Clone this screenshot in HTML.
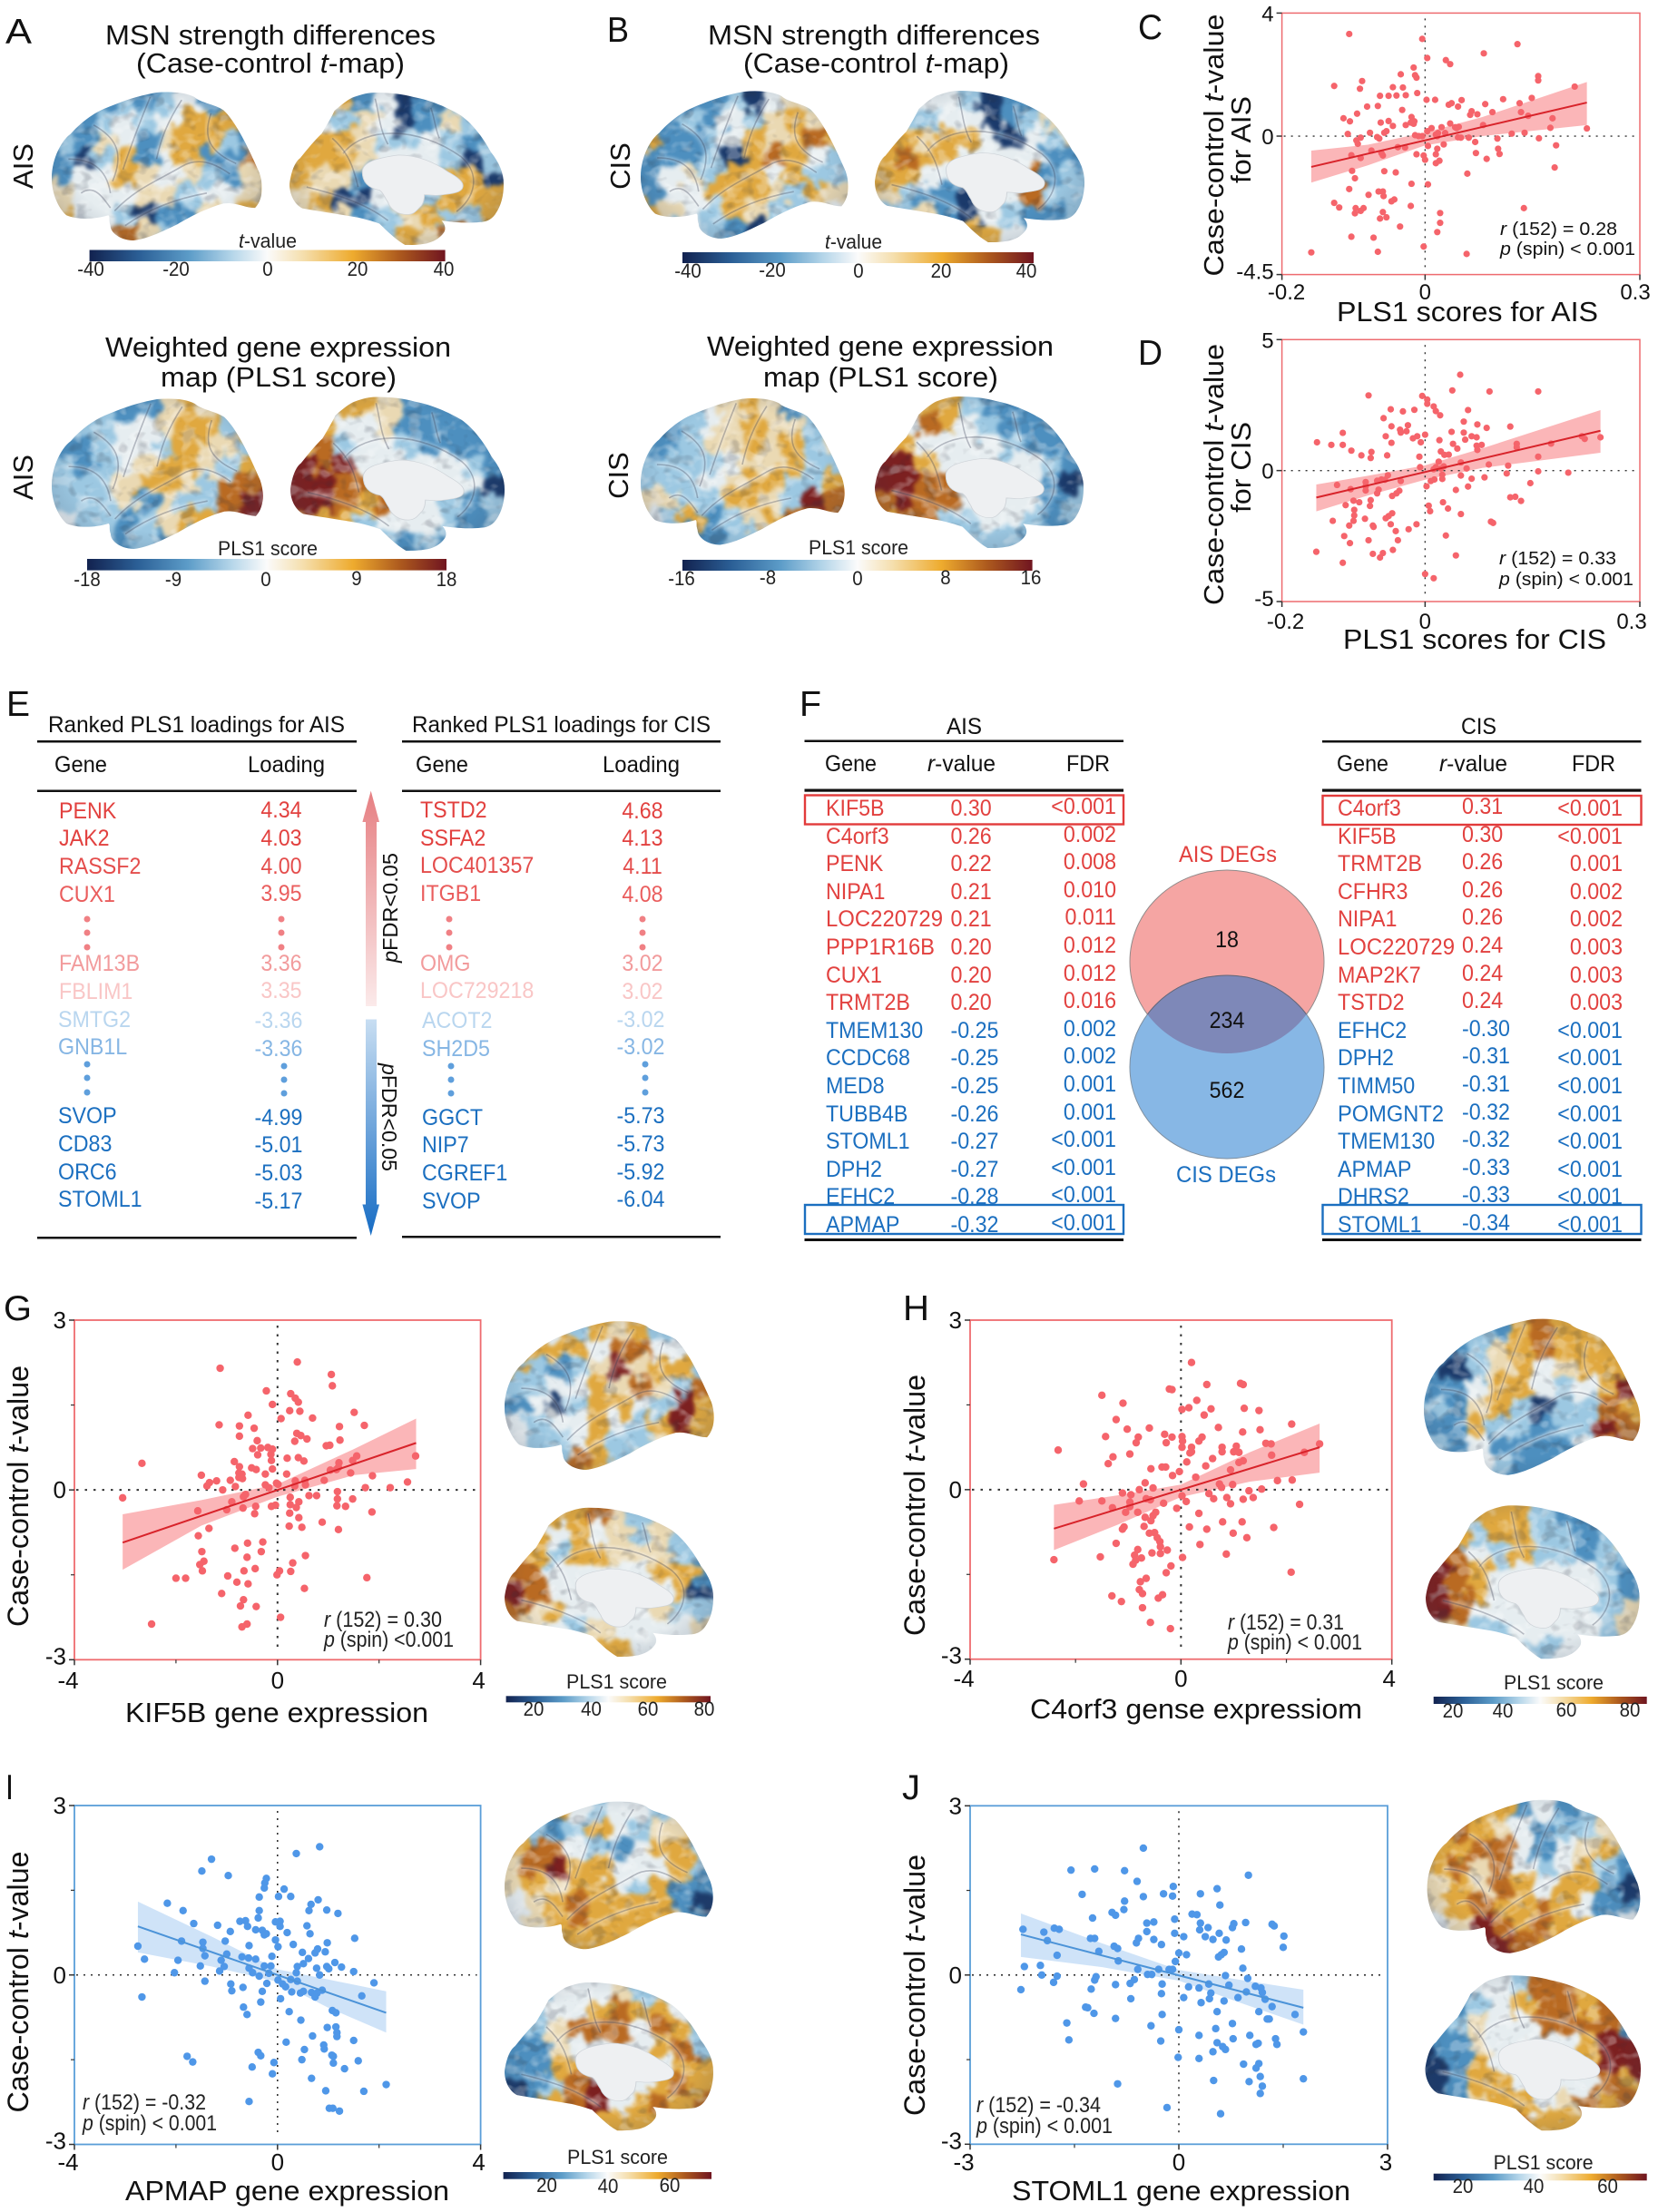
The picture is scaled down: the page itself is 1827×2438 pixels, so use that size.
<!DOCTYPE html>
<html lang="en">
<head>
<meta charset="utf-8">
<title>MSN strength and PLS1 gene expression figure</title>
<style>
html,body{margin:0;padding:0;background:#fff;}
svg{display:block;}
text{font-family:"Liberation Sans",Arial,sans-serif;fill:#111;}
.ttl{font-size:31px;}
.lab{font-size:39px;}
.red{fill:#e2413f;}
.blu{fill:#1b6fc0;}
.tb{font-size:25px;}
.cb{font-size:22px;fill:#222;}
.ann{font-size:24px;fill:#222;}
.ax{font-size:31px;}
.tb,.cb{transform:scaleX(.93);transform-box:fill-box;transform-origin:0% 50%;}
.tb[text-anchor=end]{transform-origin:100% 50%;}
g[text-anchor=middle] .tb,g[text-anchor=middle] .cb,.tb[text-anchor=middle],.cb[text-anchor=middle]{transform-origin:50% 50%;}
.tb[textLength],.cb[textLength]{transform:none;}
</style>
</head>
<body>
<svg id="figure" xmlns="http://www.w3.org/2000/svg" width="1827" height="2438" viewBox="0 0 1827 2438">
<defs>
<linearGradient id="cbar" x1="0" x2="1" y1="0" y2="0">
<stop offset="0" stop-color="#12224f"/><stop offset=".14" stop-color="#2b5f96"/><stop offset=".28" stop-color="#5c9cc8"/><stop offset=".4" stop-color="#b4d5e9"/><stop offset=".5" stop-color="#fbfbfb"/><stop offset=".6" stop-color="#f5dfae"/><stop offset=".74" stop-color="#eeab2e"/><stop offset=".87" stop-color="#ad5a1e"/><stop offset="1" stop-color="#701520"/>
</linearGradient>
<linearGradient id="upArrow" x1="0" x2="0" y1="0" y2="1"><stop offset="0" stop-color="#e67f82"/><stop offset="1" stop-color="#fbeaea"/></linearGradient>
<linearGradient id="downArrow" x1="0" x2="0" y1="0" y2="1"><stop offset="0" stop-color="#c8def2"/><stop offset="1" stop-color="#166cc4"/></linearGradient>
<radialGradient id="brainEdge" cx=".5" cy=".48" r=".62"><stop offset=".65" stop-color="#30405a" stop-opacity="0"/><stop offset="1" stop-color="#30405a" stop-opacity=".24"/></radialGradient>
<filter id="wobble" x="-10%" y="-10%" width="120%" height="120%" color-interpolation-filters="sRGB"><feTurbulence type="fractalNoise" baseFrequency="0.06 0.05" numOctaves="2" seed="7" result="n"/><feDisplacementMap in="SourceGraphic" in2="n" scale="32" xChannelSelector="R" yChannelSelector="G"/><feGaussianBlur stdDeviation="2"/></filter>
<filter id="veinsDark" x="0" y="0" width="1" height="1" color-interpolation-filters="sRGB"><feTurbulence type="fractalNoise" baseFrequency="0.06 0.08" numOctaves="2" seed="4"/><feColorMatrix values="0 0 0 0 .16 0 0 0 0 .18 0 0 0 0 .24 5 0 0 0 -2.7"/></filter>
<filter id="veinsLight" x="0" y="0" width="1" height="1" color-interpolation-filters="sRGB"><feTurbulence type="fractalNoise" baseFrequency="0.06 0.08" numOctaves="2" seed="9"/><feColorMatrix values="0 0 0 0 1 0 0 0 0 1 0 0 0 0 1 5 0 0 0 -2.5"/></filter>
<filter id="soft" x="-10%" y="-10%" width="120%" height="120%"><feGaussianBlur stdDeviation="1"/></filter>
<clipPath id="overlapClip"><ellipse cx="1352" cy="1060" rx="107" ry="101"/></clipPath>
</defs>

<g id="brains"></g>
<g id="plots"></g>

<!-- panel letters -->
<text class="lab" x="6" y="48" textLength="29" lengthAdjust="spacingAndGlyphs">A</text>
<text class="lab" x="669" y="46" textLength="24" lengthAdjust="spacingAndGlyphs">B</text>
<text class="lab" x="1254" y="43" textLength="27" lengthAdjust="spacingAndGlyphs">C</text>
<text class="lab" x="1254" y="402" textLength="27" lengthAdjust="spacingAndGlyphs">D</text>
<text class="lab" x="7" y="789" textLength="26" lengthAdjust="spacingAndGlyphs">E</text>
<text class="lab" x="881" y="789" textLength="24" lengthAdjust="spacingAndGlyphs">F</text>
<text class="lab" x="4" y="1455" textLength="31" lengthAdjust="spacingAndGlyphs">G</text>
<text class="lab" x="995" y="1455" textLength="29" lengthAdjust="spacingAndGlyphs">H</text>
<text class="lab" x="6" y="1983" textLength="9" lengthAdjust="spacingAndGlyphs">I</text>
<text class="lab" x="994" y="1983" textLength="20" lengthAdjust="spacingAndGlyphs">J</text>

<!-- A & B titles -->
<text class="ttl" x="116" y="49" textLength="364" lengthAdjust="spacingAndGlyphs">MSN strength differences</text>
<text class="ttl" x="150" y="80" textLength="296" lengthAdjust="spacingAndGlyphs">(Case-control <tspan font-style="italic">t</tspan>-map)</text>
<text class="ttl" x="116" y="393" textLength="381" lengthAdjust="spacingAndGlyphs">Weighted gene expression</text>
<text class="ttl" x="177" y="426" textLength="260" lengthAdjust="spacingAndGlyphs">map (PLS1 score)</text>
<text class="ttl" x="780" y="49" textLength="366" lengthAdjust="spacingAndGlyphs">MSN strength differences</text>
<text class="ttl" x="819" y="80" textLength="293" lengthAdjust="spacingAndGlyphs">(Case-control <tspan font-style="italic">t</tspan>-map)</text>
<text class="ttl" x="779" y="392" textLength="382" lengthAdjust="spacingAndGlyphs">Weighted gene expression</text>
<text class="ttl" x="841" y="426" textLength="259" lengthAdjust="spacingAndGlyphs">map (PLS1 score)</text>

<text font-size="31" transform="translate(36 183) rotate(-90)" text-anchor="middle">AIS</text>
<text font-size="31" transform="translate(36 526) rotate(-90)" text-anchor="middle">AIS</text>
<text font-size="31" transform="translate(694 183) rotate(-90)" text-anchor="middle">CIS</text>
<text font-size="31" transform="translate(692 524) rotate(-90)" text-anchor="middle">CIS</text>

<!-- colourbars A/B -->
<text class="cb" x="263" y="273" textLength="64" lengthAdjust="spacingAndGlyphs"><tspan font-style="italic">t</tspan>-value</text>
<rect x="98.6" y="275.5" width="392" height="12.5" fill="url(#cbar)"/>
<g text-anchor="middle">
<text class="cb" x="100" y="304">-40</text><text class="cb" x="194" y="304">-20</text><text class="cb" x="295" y="304">0</text><text class="cb" x="394" y="304">20</text><text class="cb" x="489" y="304">40</text></g>
<text class="cb" x="240" y="612" textLength="110" lengthAdjust="spacingAndGlyphs">PLS1 score</text>
<rect x="96" y="616" width="396" height="12.6" fill="url(#cbar)"/>
<g text-anchor="middle">
<text class="cb" x="96" y="646">-18</text><text class="cb" x="191" y="646">-9</text><text class="cb" x="293" y="646">0</text><text class="cb" x="393" y="645">9</text><text class="cb" x="492" y="646">18</text></g>
<text class="cb" x="909" y="274" textLength="63" lengthAdjust="spacingAndGlyphs"><tspan font-style="italic">t</tspan>-value</text>
<rect x="752" y="278" width="387" height="12" fill="url(#cbar)"/>
<g text-anchor="middle">
<text class="cb" x="758" y="306">-40</text><text class="cb" x="851" y="305">-20</text><text class="cb" x="946" y="306">0</text><text class="cb" x="1037" y="306">20</text><text class="cb" x="1131" y="306">40</text></g>
<text class="cb" x="891" y="611" textLength="110" lengthAdjust="spacingAndGlyphs">PLS1 score</text>
<rect x="752" y="617" width="385.6" height="12" fill="url(#cbar)"/>
<g text-anchor="middle">
<text class="cb" x="751" y="645">-16</text><text class="cb" x="846" y="644">-8</text><text class="cb" x="945" y="645">0</text><text class="cb" x="1042" y="644">8</text><text class="cb" x="1136" y="644">16</text></g>

<!-- scatter axis titles -->
<g>
<text class="ax" transform="translate(1348 160) rotate(-90)" text-anchor="middle" textLength="289" lengthAdjust="spacingAndGlyphs">Case-control <tspan font-style="italic">t</tspan>-value</text>
<text class="ax" transform="translate(1378 154) rotate(-90)" text-anchor="middle" textLength="96" lengthAdjust="spacingAndGlyphs">for AIS</text>
<text class="ax" x="1473" y="354" textLength="288" lengthAdjust="spacingAndGlyphs">PLS1 scores for AIS</text>
<text font-size="20" x="1653" y="259" fill="#222" textLength="129" lengthAdjust="spacingAndGlyphs"><tspan font-style="italic">r</tspan> (152) = 0.28</text>
<text font-size="20" x="1653" y="281" fill="#222" textLength="149" lengthAdjust="spacingAndGlyphs"><tspan font-style="italic">p</tspan> (spin) &lt; 0.001</text>
</g>
<g>
<text class="ax" transform="translate(1348 523) rotate(-90)" text-anchor="middle" textLength="288" lengthAdjust="spacingAndGlyphs">Case-control <tspan font-style="italic">t</tspan>-value</text>
<text class="ax" transform="translate(1378 515) rotate(-90)" text-anchor="middle" textLength="100" lengthAdjust="spacingAndGlyphs">for CIS</text>
<text class="ax" x="1480" y="715" textLength="290" lengthAdjust="spacingAndGlyphs">PLS1 scores for CIS</text>
<text font-size="20" x="1652" y="622" fill="#222" textLength="129" lengthAdjust="spacingAndGlyphs"><tspan font-style="italic">r</tspan> (152) = 0.33</text>
<text font-size="20" x="1652" y="645" fill="#222" textLength="148" lengthAdjust="spacingAndGlyphs"><tspan font-style="italic">p</tspan> (spin) &lt; 0.001</text>
</g>
<g>
<text class="ax" font-size="32" style="font-size:32px" transform="translate(31 1649) rotate(-90)" text-anchor="middle" textLength="288" lengthAdjust="spacingAndGlyphs">Case-control <tspan font-style="italic">t</tspan>-value</text>
<text class="ax" x="138" y="1898" textLength="334" lengthAdjust="spacingAndGlyphs">KIF5B gene expression</text>
<text class="ann" x="357" y="1793" textLength="130" lengthAdjust="spacingAndGlyphs"><tspan font-style="italic">r</tspan> (152) = 0.30</text>
<text class="ann" x="357" y="1815" textLength="143" lengthAdjust="spacingAndGlyphs"><tspan font-style="italic">p</tspan> (spin) &lt;0.001</text>
</g>
<g>
<text class="ax" style="font-size:32px" transform="translate(1019 1659) rotate(-90)" text-anchor="middle" textLength="288" lengthAdjust="spacingAndGlyphs">Case-control <tspan font-style="italic">t</tspan>-value</text>
<text class="ax" x="1135" y="1894" textLength="366" lengthAdjust="spacingAndGlyphs">C4orf3 gense expressiom</text>
<text class="ann" x="1353" y="1796" textLength="128" lengthAdjust="spacingAndGlyphs"><tspan font-style="italic">r</tspan> (152) = 0.31</text>
<text class="ann" x="1353" y="1818" textLength="148" lengthAdjust="spacingAndGlyphs"><tspan font-style="italic">p</tspan> (spin) &lt; 0.001</text>
</g>
<g>
<text class="ax" style="font-size:32px" transform="translate(31 2184.5) rotate(-90)" text-anchor="middle" textLength="288" lengthAdjust="spacingAndGlyphs">Case-control <tspan font-style="italic">t</tspan>-value</text>
<text class="ax" x="138" y="2425" textLength="357" lengthAdjust="spacingAndGlyphs">APMAP gene expression</text>
<text class="ann" x="91" y="2325" textLength="136" lengthAdjust="spacingAndGlyphs"><tspan font-style="italic">r</tspan> (152) = -0.32</text>
<text class="ann" x="91" y="2348" textLength="148" lengthAdjust="spacingAndGlyphs"><tspan font-style="italic">p</tspan> (spin) &lt; 0.001</text>
</g>
<g>
<text class="ax" style="font-size:32px" transform="translate(1019 2188) rotate(-90)" text-anchor="middle" textLength="288" lengthAdjust="spacingAndGlyphs">Case-control <tspan font-style="italic">t</tspan>-value</text>
<text class="ax" x="1115" y="2425" textLength="373" lengthAdjust="spacingAndGlyphs">STOML1 gene expression</text>
<text class="ann" x="1076" y="2328" textLength="137" lengthAdjust="spacingAndGlyphs"><tspan font-style="italic">r</tspan> (152) = -0.34</text>
<text class="ann" x="1076" y="2351" textLength="150" lengthAdjust="spacingAndGlyphs"><tspan font-style="italic">p</tspan> (spin) &lt; 0.001</text>
</g>

<!-- small colourbars -->
<g>
<text class="cb" x="624" y="1861" textLength="111" lengthAdjust="spacingAndGlyphs">PLS1 score</text>
<rect x="557.6" y="1869.3" width="225.4" height="7" fill="url(#cbar)"/>
<text class="cb" x="588" y="1891" text-anchor="middle">20</text><text class="cb" x="651.5" y="1891" text-anchor="middle">40</text><text class="cb" x="714" y="1891" text-anchor="middle">60</text><text class="cb" x="776" y="1891" text-anchor="middle">80</text>
</g>
<g>
<text class="cb" x="1657" y="1862" textLength="110" lengthAdjust="spacingAndGlyphs">PLS1 score</text>
<rect x="1579.7" y="1870" width="235" height="8" fill="url(#cbar)"/>
<text class="cb" x="1601" y="1893" text-anchor="middle">20</text><text class="cb" x="1656" y="1893" text-anchor="middle">40</text><text class="cb" x="1726" y="1892" text-anchor="middle">60</text><text class="cb" x="1796" y="1892" text-anchor="middle">80</text>
</g>
<g>
<text class="cb" x="625" y="2385" textLength="111" lengthAdjust="spacingAndGlyphs">PLS1 score</text>
<rect x="554.6" y="2394" width="229.4" height="7.7" fill="url(#cbar)"/>
<text class="cb" x="602.5" y="2416" text-anchor="middle">20</text><text class="cb" x="670" y="2417" text-anchor="middle">40</text><text class="cb" x="738" y="2416" text-anchor="middle">60</text>
</g>
<g>
<text class="cb" x="1645.6" y="2391" textLength="110" lengthAdjust="spacingAndGlyphs">PLS1 score</text>
<rect x="1579.7" y="2395.7" width="235" height="7.6" fill="url(#cbar)"/>
<text class="cb" x="1612" y="2417" text-anchor="middle">20</text><text class="cb" x="1690" y="2417" text-anchor="middle">40</text><text class="cb" x="1771.5" y="2417" text-anchor="middle">60</text>
</g>

<!-- Panel E -->
<g id="panel-e">
<text class="tb" x="53" y="807" textLength="327" lengthAdjust="spacingAndGlyphs">Ranked PLS1 loadings for AIS</text>
<text class="tb" x="454" y="807" textLength="329" lengthAdjust="spacingAndGlyphs">Ranked PLS1 loadings for CIS</text>
<rect x="41" y="816" width="352" height="2.5" fill="#111"/>
<rect x="443" y="816" width="351" height="2.5" fill="#111"/>
<text class="tb" x="60" y="851" textLength="58" lengthAdjust="spacingAndGlyphs">Gene</text>
<text class="tb" x="273" y="851" textLength="85" lengthAdjust="spacingAndGlyphs">Loading</text>
<text class="tb" x="458" y="851" textLength="58" lengthAdjust="spacingAndGlyphs">Gene</text>
<text class="tb" x="664" y="851" textLength="85" lengthAdjust="spacingAndGlyphs">Loading</text>
<rect x="41" y="870.5" width="352" height="2.5" fill="#111"/>
<rect x="443" y="870.5" width="351" height="2.5" fill="#111"/>
<rect x="41" y="1363" width="352" height="2.5" fill="#111"/>
<rect x="443" y="1362" width="351" height="2.5" fill="#111"/>

<g>
<text class="tb" style="fill:#e2413f" x="65" y="902">PENK</text>
<text class="tb" style="fill:#e2413f" x="65" y="932">JAK2</text>
<text class="tb" style="fill:#e44d4c" x="65" y="963">RASSF2</text>
<text class="tb" style="fill:#ea5d5d" x="65" y="994">CUX1</text>
<text class="tb" style="fill:#f29b9c" x="65" y="1070">FAM13B</text>
<text class="tb" style="fill:#f9c6c6" x="65" y="1101">FBLIM1</text>
<text class="tb" style="fill:#b9d6ef" x="64" y="1132">SMTG2</text>
<text class="tb" style="fill:#86b6e4" x="64" y="1162">GNB1L</text>
<text class="tb" style="fill:#1b6fc0" x="64" y="1238">SVOP</text>
<text class="tb" style="fill:#1b6fc0" x="64" y="1269">CD83</text>
<text class="tb" style="fill:#1b6fc0" x="64" y="1300">ORC6</text>
<text class="tb" style="fill:#1b6fc0" x="64" y="1330">STOML1</text>
</g>
<g text-anchor="middle">
<text class="tb" style="fill:#e2413f" x="310" y="901">4.34</text>
<text class="tb" style="fill:#e2413f" x="310" y="932">4.03</text>
<text class="tb" style="fill:#e44d4c" x="310" y="963">4.00</text>
<text class="tb" style="fill:#ea5d5d" x="310" y="993">3.95</text>
<text class="tb" style="fill:#f29b9c" x="310" y="1070">3.36</text>
<text class="tb" style="fill:#f9c6c6" x="310" y="1100">3.35</text>
<text class="tb" style="fill:#b9d6ef" x="307" y="1133">-3.36</text>
<text class="tb" style="fill:#86b6e4" x="307" y="1164">-3.36</text>
<text class="tb" style="fill:#1b6fc0" x="307" y="1240">-4.99</text>
<text class="tb" style="fill:#1b6fc0" x="307" y="1270">-5.01</text>
<text class="tb" style="fill:#1b6fc0" x="307" y="1301">-5.03</text>
<text class="tb" style="fill:#1b6fc0" x="307" y="1332">-5.17</text>
</g>
<g>
<text class="tb" style="fill:#e2413f" x="463" y="901">TSTD2</text>
<text class="tb" style="fill:#e2413f" x="463" y="932">SSFA2</text>
<text class="tb" style="fill:#e44d4c" x="463" y="962">LOC401357</text>
<text class="tb" style="fill:#ea5d5d" x="463" y="993">ITGB1</text>
<text class="tb" style="fill:#f29b9c" x="463" y="1070">OMG</text>
<text class="tb" style="fill:#f9c6c6" x="463" y="1100">LOC729218</text>
<text class="tb" style="fill:#b9d6ef" x="465" y="1133">ACOT2</text>
<text class="tb" style="fill:#86b6e4" x="465" y="1164">SH2D5</text>
<text class="tb" style="fill:#1b6fc0" x="465" y="1240">GGCT</text>
<text class="tb" style="fill:#1b6fc0" x="465" y="1270">NIP7</text>
<text class="tb" style="fill:#1b6fc0" x="465" y="1301">CGREF1</text>
<text class="tb" style="fill:#1b6fc0" x="465" y="1332">SVOP</text>
</g>
<g text-anchor="middle">
<text class="tb" style="fill:#e2413f" x="708" y="902">4.68</text>
<text class="tb" style="fill:#e2413f" x="708" y="932">4.13</text>
<text class="tb" style="fill:#e44d4c" x="708" y="963">4.11</text>
<text class="tb" style="fill:#ea5d5d" x="708" y="994">4.08</text>
<text class="tb" style="fill:#f29b9c" x="708" y="1070">3.02</text>
<text class="tb" style="fill:#f9c6c6" x="708" y="1101">3.02</text>
<text class="tb" style="fill:#b9d6ef" x="706" y="1132">-3.02</text>
<text class="tb" style="fill:#86b6e4" x="706" y="1162">-3.02</text>
<text class="tb" style="fill:#1b6fc0" x="706" y="1238">-5.73</text>
<text class="tb" style="fill:#1b6fc0" x="706" y="1269">-5.73</text>
<text class="tb" style="fill:#1b6fc0" x="706" y="1300">-5.92</text>
<text class="tb" style="fill:#1b6fc0" x="706" y="1330">-6.04</text>
</g>
<g fill="#f08084">
<circle cx="96" cy="1013" r="3.5"/><circle cx="96" cy="1028" r="3.5"/><circle cx="96" cy="1044" r="3.5"/>
<circle cx="310" cy="1013" r="3.5"/><circle cx="310" cy="1028" r="3.5"/><circle cx="310" cy="1044" r="3.5"/>
<circle cx="495" cy="1013" r="3.5"/><circle cx="495" cy="1028" r="3.5"/><circle cx="495" cy="1044" r="3.5"/>
<circle cx="708" cy="1013" r="3.5"/><circle cx="708" cy="1028" r="3.5"/><circle cx="708" cy="1044" r="3.5"/>
</g>
<g fill="#5f9fdc">
<circle cx="96" cy="1173" r="3.5"/><circle cx="96" cy="1188" r="3.5"/><circle cx="96" cy="1204" r="3.5"/>
<circle cx="313" cy="1175" r="3.5"/><circle cx="313" cy="1190" r="3.5"/><circle cx="313" cy="1205" r="3.5"/>
<circle cx="497" cy="1175" r="3.5"/><circle cx="497" cy="1190" r="3.5"/><circle cx="497" cy="1205" r="3.5"/>
<circle cx="711" cy="1173" r="3.5"/><circle cx="711" cy="1188" r="3.5"/><circle cx="711" cy="1204" r="3.5"/>
</g>
<path d="M408.7 871.6 L418 906 L415 906 L415 1109 L403 1109 L403 906 L399.4 906 Z" fill="url(#upArrow)"/>
<path d="M403 1123.5 L415 1123.5 L415 1327.5 L418 1327.5 L408.7 1362 L399.4 1327.5 L403 1327.5 Z" fill="url(#downArrow)"/>
<text font-size="23" transform="translate(438 1061) rotate(-90)" textLength="121" lengthAdjust="spacingAndGlyphs"><tspan font-style="italic">p</tspan>FDR&lt;0.05</text>
<text font-size="23" transform="translate(421 1172) rotate(90)" textLength="119" lengthAdjust="spacingAndGlyphs"><tspan font-style="italic">p</tspan>FDR&lt;0.05</text>
</g>

<!-- Panel F -->
<g id="panel-f">
<text class="tb" x="1043" y="809" textLength="39" lengthAdjust="spacingAndGlyphs">AIS</text>
<text class="tb" x="1610" y="809" textLength="39" lengthAdjust="spacingAndGlyphs">CIS</text>
<rect x="886.5" y="815.5" width="351.5" height="2.5" fill="#111"/>
<rect x="1457" y="816" width="351.5" height="2.5" fill="#111"/>
<text class="tb" x="909" y="850" textLength="57" lengthAdjust="spacingAndGlyphs">Gene</text>
<text class="tb" x="1022" y="850" textLength="75" lengthAdjust="spacingAndGlyphs"><tspan font-style="italic">r</tspan>-value</text>
<text class="tb" x="1175" y="850" textLength="48" lengthAdjust="spacingAndGlyphs">FDR</text>
<text class="tb" x="1473" y="850" textLength="57" lengthAdjust="spacingAndGlyphs">Gene</text>
<text class="tb" x="1586" y="850" textLength="75" lengthAdjust="spacingAndGlyphs"><tspan font-style="italic">r</tspan>-value</text>
<text class="tb" x="1732" y="850" textLength="48" lengthAdjust="spacingAndGlyphs">FDR</text>
<rect x="886.5" y="869.5" width="351.5" height="3.2" fill="#111"/>
<rect x="1457" y="869.5" width="351.5" height="3.2" fill="#111"/>
<rect x="886.5" y="1365" width="351.5" height="3" fill="#111"/>
<rect x="1457" y="1365" width="351.5" height="3" fill="#111"/>
<g id="deg-rows">
<text class="tb red" x="910" y="899">KIF5B</text><text class="tb red" x="1047.5" y="899">0.30</text><text class="tb red" x="1230" y="897" text-anchor="end">&lt;0.001</text>
<text class="tb red" x="910" y="930">C4orf3</text><text class="tb red" x="1047.5" y="930">0.26</text><text class="tb red" x="1230" y="928" text-anchor="end">0.002</text>
<text class="tb red" x="910" y="960">PENK</text><text class="tb red" x="1047.5" y="960">0.22</text><text class="tb red" x="1230" y="958" text-anchor="end">0.008</text>
<text class="tb red" x="910" y="991">NIPA1</text><text class="tb red" x="1047.5" y="991">0.21</text><text class="tb red" x="1230" y="989" text-anchor="end">0.010</text>
<text class="tb red" x="910" y="1021" textLength="129" lengthAdjust="spacingAndGlyphs">LOC220729</text><text class="tb red" x="1047.5" y="1021">0.21</text><text class="tb red" x="1230" y="1019" text-anchor="end">0.011</text>
<text class="tb red" x="910" y="1052" textLength="120" lengthAdjust="spacingAndGlyphs">PPP1R16B</text><text class="tb red" x="1047.5" y="1052">0.20</text><text class="tb red" x="1230" y="1050" text-anchor="end">0.012</text>
<text class="tb red" x="910" y="1083">CUX1</text><text class="tb red" x="1047.5" y="1083">0.20</text><text class="tb red" x="1230" y="1081" text-anchor="end">0.012</text>
<text class="tb red" x="910" y="1113">TRMT2B</text><text class="tb red" x="1047.5" y="1113">0.20</text><text class="tb red" x="1230" y="1111" text-anchor="end">0.016</text>
<text class="tb blu" x="910" y="1144">TMEM130</text><text class="tb blu" x="1047.5" y="1144">-0.25</text><text class="tb blu" x="1230" y="1142" text-anchor="end">0.002</text>
<text class="tb blu" x="910" y="1174">CCDC68</text><text class="tb blu" x="1047.5" y="1174">-0.25</text><text class="tb blu" x="1230" y="1172" text-anchor="end">0.002</text>
<text class="tb blu" x="910" y="1205">MED8</text><text class="tb blu" x="1047.5" y="1205">-0.25</text><text class="tb blu" x="1230" y="1203" text-anchor="end">0.001</text>
<text class="tb blu" x="910" y="1236">TUBB4B</text><text class="tb blu" x="1047.5" y="1236">-0.26</text><text class="tb blu" x="1230" y="1234" text-anchor="end">0.001</text>
<text class="tb blu" x="910" y="1266">STOML1</text><text class="tb blu" x="1047.5" y="1266">-0.27</text><text class="tb blu" x="1230" y="1264" text-anchor="end">&lt;0.001</text>
<text class="tb blu" x="910" y="1297">DPH2</text><text class="tb blu" x="1047.5" y="1297">-0.27</text><text class="tb blu" x="1230" y="1295" text-anchor="end">&lt;0.001</text>
<text class="tb blu" x="910" y="1327">EFHC2</text><text class="tb blu" x="1047.5" y="1327">-0.28</text><text class="tb blu" x="1230" y="1325" text-anchor="end">&lt;0.001</text>
<text class="tb blu" x="910" y="1358">APMAP</text><text class="tb blu" x="1047.5" y="1358">-0.32</text><text class="tb blu" x="1230" y="1356" text-anchor="end">&lt;0.001</text>

<text class="tb red" x="1474" y="899">C4orf3</text><text class="tb red" x="1611" y="897">0.31</text><text class="tb red" x="1788" y="899" text-anchor="end">&lt;0.001</text>
<text class="tb red" x="1474" y="930">KIF5B</text><text class="tb red" x="1611" y="928">0.30</text><text class="tb red" x="1788" y="930" text-anchor="end">&lt;0.001</text>
<text class="tb red" x="1474" y="960">TRMT2B</text><text class="tb red" x="1611" y="958">0.26</text><text class="tb red" x="1788" y="960" text-anchor="end">0.001</text>
<text class="tb red" x="1474" y="991">CFHR3</text><text class="tb red" x="1611" y="989">0.26</text><text class="tb red" x="1788" y="991" text-anchor="end">0.002</text>
<text class="tb red" x="1474" y="1021">NIPA1</text><text class="tb red" x="1611" y="1019">0.26</text><text class="tb red" x="1788" y="1021" text-anchor="end">0.002</text>
<text class="tb red" x="1474" y="1052" textLength="129" lengthAdjust="spacingAndGlyphs">LOC220729</text><text class="tb red" x="1611" y="1050">0.24</text><text class="tb red" x="1788" y="1052" text-anchor="end">0.003</text>
<text class="tb red" x="1474" y="1083">MAP2K7</text><text class="tb red" x="1611" y="1081">0.24</text><text class="tb red" x="1788" y="1083" text-anchor="end">0.003</text>
<text class="tb red" x="1474" y="1113">TSTD2</text><text class="tb red" x="1611" y="1111">0.24</text><text class="tb red" x="1788" y="1113" text-anchor="end">0.003</text>
<text class="tb blu" x="1474" y="1144">EFHC2</text><text class="tb blu" x="1611" y="1142">-0.30</text><text class="tb blu" x="1788" y="1144" text-anchor="end">&lt;0.001</text>
<text class="tb blu" x="1474" y="1174">DPH2</text><text class="tb blu" x="1611" y="1172">-0.31</text><text class="tb blu" x="1788" y="1174" text-anchor="end">&lt;0.001</text>
<text class="tb blu" x="1474" y="1205">TIMM50</text><text class="tb blu" x="1611" y="1203">-0.31</text><text class="tb blu" x="1788" y="1205" text-anchor="end">&lt;0.001</text>
<text class="tb blu" x="1474" y="1236" textLength="117" lengthAdjust="spacingAndGlyphs">POMGNT2</text><text class="tb blu" x="1611" y="1234">-0.32</text><text class="tb blu" x="1788" y="1236" text-anchor="end">&lt;0.001</text>
<text class="tb blu" x="1474" y="1266">TMEM130</text><text class="tb blu" x="1611" y="1264">-0.32</text><text class="tb blu" x="1788" y="1266" text-anchor="end">&lt;0.001</text>
<text class="tb blu" x="1474" y="1297">APMAP</text><text class="tb blu" x="1611" y="1295">-0.33</text><text class="tb blu" x="1788" y="1297" text-anchor="end">&lt;0.001</text>
<text class="tb blu" x="1474" y="1327">DHRS2</text><text class="tb blu" x="1611" y="1325">-0.33</text><text class="tb blu" x="1788" y="1327" text-anchor="end">&lt;0.001</text>
<text class="tb blu" x="1474" y="1358">STOML1</text><text class="tb blu" x="1611" y="1356">-0.34</text><text class="tb blu" x="1788" y="1358" text-anchor="end">&lt;0.001</text>
</g>
<rect x="887" y="876.5" width="351" height="32" fill="none" stroke="#e23b3b" stroke-width="2.4"/>
<rect x="1457.5" y="877" width="351" height="32" fill="none" stroke="#e23b3b" stroke-width="2.4"/>
<rect x="887" y="1328" width="351" height="32" fill="none" stroke="#1b6fc0" stroke-width="2.4"/>
<rect x="1457.5" y="1328" width="351" height="32" fill="none" stroke="#1b6fc0" stroke-width="2.4"/>

<text class="tb red" x="1299" y="950" textLength="108" lengthAdjust="spacingAndGlyphs">AIS DEGs</text>
<ellipse cx="1352" cy="1060" rx="107" ry="101" fill="#f5a5a3" stroke="#8f8a8a" stroke-width="1"/>
<ellipse cx="1352" cy="1176" rx="107" ry="101" fill="#87b7e5" stroke="#7f8f9f" stroke-width="1"/>
<ellipse cx="1352" cy="1176" rx="107" ry="101" fill="#7e88b8" clip-path="url(#overlapClip)" stroke="#667" stroke-width="1"/>
<text class="tb" x="1352" y="1044" text-anchor="middle">18</text>
<text class="tb" x="1352" y="1133" text-anchor="middle">234</text>
<text class="tb" x="1352" y="1210" text-anchor="middle">562</text>
<text class="tb blu" x="1296" y="1303" textLength="110" lengthAdjust="spacingAndGlyphs">CIS DEGs</text>
</g>
</svg>

<script>
// ---------- Panel C ----------
const cX=[-0.106,-0.004,0.003,0.129,0.082,0.029,0.035,-0.016,-0.014,-0.012,-0.034,-0.088,-0.127,-0.091,-0.045,-0.031,-0.011,-0.063,-0.051,-0.040,-0.027,0.002,0.014,0.033,0.037,0.051,0.046,0.084,0.109,0.149,0.132,0.158,0.158,0.209,-0.081,-0.066,-0.032,-0.095,-0.114,-0.105,-0.062,-0.051,-0.045,-0.019,-0.015,-0.020,-0.027,-0.016,-0.054,-0.057,-0.077,-0.108,-0.090,-0.096,-0.094,-0.067,-0.064,-0.014,-0.004,-0.009,0.003,0.009,0.015,0.018,0.023,0.028,0.017,0.035,0.042,0.047,0.044,0.081,0.046,0.050,0.061,0.070,0.065,0.063,0.073,0.094,0.134,0.144,0.178,0.175,0.121,0.139,0.159,0.101,0.102,0.104,0.183,0.181,0.071,0.086,0.059,-0.075,-0.103,-0.090,-0.061,-0.059,-0.038,-0.028,-0.012,-0.002,0,0.004,0.017,0.015,0.020,0.015,0.026,-0.057,-0.041,-0.102,-0.098,-0.106,-0.019,0.004,-0.079,-0.065,-0.059,-0.058,-0.043,-0.047,-0.127,-0.120,-0.097,-0.086,-0.090,-0.098,-0.059,-0.063,-0.054,-0.020,0.021,0.021,0.017,0.138,-0.035,-0.103,-0.072,-0.002,-0.159,-0.066,0.058,0.226];
const cY=[3.32,3.16,2.54,2.99,2.69,2.47,2.34,2.23,1.98,1.90,2.01,1.79,1.63,1.54,1.59,1.58,1.40,1.31,1.31,1.32,1.33,1.18,1.18,1.02,1.07,1.17,0.96,1.04,1.20,1.24,1.07,1.95,1.81,1.61,0.96,0.98,0.85,0.73,0.58,0.48,0.44,0.49,0.33,0.62,0.48,0.44,0.36,0.40,0.16,0.11,0.11,0.07,-0.05,-0.14,-0.25,-0.03,-0.08,0.03,0,0,0.16,0.26,0.05,0.10,0.29,0.10,0,0.41,0.29,0.30,0.26,0.36,-0.04,-0.05,-0.05,-0.19,0.81,0.69,0.71,0.78,0.78,0.66,0.58,0.27,0.08,0.11,-0.07,-0.08,-0.41,-0.58,-0.30,-1.02,-0.55,-0.74,-1.22,-0.47,-0.62,-0.71,-0.55,-0.63,-0.36,-0.37,-0.59,-0.63,-0.77,-0.32,-0.41,-0.59,-0.80,-0.88,-0.27,-1.14,-1.18,-1.13,-1.37,-1.72,-1.55,-1.57,-1.91,-1.80,-1.80,-1.95,-2.06,-2.12,-2.17,-2.32,-2.34,-2.34,-2.43,-2.51,-2.47,-2.68,-2.64,-2.27,-2.50,-2.82,-3.12,-2.34,-2.94,-3.27,-3.30,-3.59,-3.78,-3.76,-3.83,0.25];
const cFitX=[-0.159,0.226];
const cFitY=[-1.00,1.09];
const cBandX=[-0.159,-0.08,0,0.08,0.226];
const cBandUpper=[-0.47,-0.28,0.12,0.62,1.76];
const cBandLower=[-1.51,-0.95,-0.30,0.00,0.36];
const cXTicks=[-0.2,0,0.3];
const cYTicks=[4,0,-4.5];

// ---------- Panel D ----------
const dX=[.049,.038,.090,.158,-.079,-.004,.003,.003,.012,.015,.021,-.048,-.031,-.015,.060,-.058,.054,.073,.086,.119,-.047,-.024,-.035,-.034,-.026,.037,.054,-.115,-.055,-.011,0,-.017,-.006,.020,.056,.065,.072,.219,.223,.245,-.151,-.131,-.115,-.047,.039,.045,.072,.079,.073,.128,.128,.176,-.103,-.089,-.075,-.076,-.053,-.008,.022,.027,.033,.019,.026,.050,.158,.089,.116,-.007,.012,.015,.022,.058,.158,.200,.114,.050,.024,.024,.013,.008,.002,.065,.083,.060,.043,.147,-.052,-.061,-.056,-.067,-.034,-.123,-.083,-.083,-.083,-.104,-.065,-.067,-.036,-.040,-.046,.119,.126,.134,-.100,-.092,-.076,-.077,-.111,.025,.005,.007,.032,.050,-.099,-.099,-.100,-.106,-.084,-.129,-.055,-.046,-.051,-.073,-.072,-.048,-.012,-.023,-.041,.092,.095,-.113,.029,-.079,-.038,-.105,-.152,-.045,-.073,-.059,-.063,.043,-.115,0,.012];
const dY=[3.66,3.06,3.02,3.02,2.87,2.85,2.71,2.55,2.45,2.27,2.11,2.34,2.26,2.32,2.31,2.0,1.87,1.76,1.63,1.68,1.69,1.73,1.56,1.45,1.50,1.48,1.45,1.44,1.31,1.31,1.37,1.23,1.08,1.16,1.18,1.31,1.27,1.31,1.21,1.27,1.08,.98,.98,1.06,1.02,.84,.95,.98,.79,1.02,.89,1.03,.76,.58,.71,.48,.58,.53,.73,.60,.61,.34,.16,.31,.53,.23,.19,.13,.05,.13,.08,.08,-.03,-.08,-.11,-.19,-.16,-.32,-.34,-.40,-.60,-.31,-.26,-.61,-.74,-.48,-.18,-.34,-.35,-.39,-.40,-.55,-.44,-.60,-.76,-.71,-.73,-.87,-.77,-.87,-.97,-1.02,-1.0,-1.16,-1.15,-1.21,-1.13,-1.35,-1.32,-1.21,-1.34,-1.55,-1.45,-1.66,-1.5,-1.71,-1.92,-2.10,-1.84,-1.92,-1.82,-1.63,-1.74,-2.10,-2.15,-2.05,-2.05,-2.24,-2.31,-1.95,-2.0,-2.5,-2.48,-2.66,-2.66,-2.77,-3.10,-3.03,-3.18,-3.15,-3.32,-3.24,-3.52,-3.95,-4.11];
const dFitX=[-0.152,0.245];
const dFitY=[-1.03,1.52];
const dBandX=[-0.152,-0.08,0,0.08,0.245];
const dBandUpper=[-0.53,-0.20,0.20,0.85,2.31];
const dBandLower=[-1.56,-0.95,-0.35,0.10,0.68];
const dXTicks=[-0.2,0,0.3];
const dYTicks=[5,0,-5];

// ---------- Panel G ----------
const gX=[.39,-1.13,1.06,1.08,-.22,.26,.35,.41,-.10,.24,.44,1.51,-.58,.07,.69,-1.15,-.75,-.46,1.22,1.71,.38,.46,.58,.34,-.75,-.40,1.23,.96,1.03,-.49,-.33,-.19,-.10,-.39,-.13,.41,.19,.52,1.56,1.48,2.72,-2.67,-.85,-.12,-.75,-.51,-.42,-.10,1.21,1.20,1.04,1.16,1.44,-1.50,-.76,-.70,-.24,.18,1.87,2.56,-.76,-.69,-.93,-1.20,-1.34,-1.39,-.83,-1.08,-.24,-.17,-.02,.01,.35,.54,.55,.34,.92,1.73,2.22,1.18,-.63,-.67,.62,.77,.25,1.18,1.48,-3.05,-.90,-.43,-.68,-1.0,.25,.42,.37,-.12,-.04,1.17,1.34,-1.57,-.45,.24,1.86,.42,.88,.23,.48,1.20,-1.35,-1.56,-.29,-.59,-.84,-.32,-1.49,.55,-.60,-1.45,-1.53,.30,-.44,-.66,-1.48,.04,.26,-.01,-.98,-2.0,-1.81,1.76,-.80,-.58,.53,-1.10,-.67,-.73,-.42,.06,-2.48,-.60,-.70];
const gY=[2.26,2.15,2.04,1.84,1.75,1.70,1.62,1.55,1.51,1.40,1.39,1.37,1.32,1.26,1.27,1.15,1.13,1.09,1.12,1.14,1.0,.96,.90,.86,.95,.87,.88,.78,.79,.73,.74,.75,.72,.62,.63,.57,.56,.51,.60,.52,.60,.47,.50,.52,.41,.39,.36,.37,.48,.40,.35,.36,.30,.26,.30,.28,.28,.28,.25,.14,.22,.20,.17,.16,.13,.07,.06,0,.09,.04,.12,.10,.16,.17,.09,.07,.17,.04,.04,-.03,-.08,-.12,-.10,-.10,-.13,-.16,-.16,-.14,-.21,-.29,-.32,-.35,-.26,-.21,-.31,-.29,-.27,-.28,-.29,-.37,-.42,-.41,-.39,-.49,-.57,-.64,-.66,-.70,-.68,-.81,-.92,-.94,-1.03,-1.09,-1.09,-1.16,-1.19,-1.26,-1.32,-1.29,-1.39,-1.43,-1.43,-1.43,-1.44,-1.50,-1.52,-1.56,-1.56,-1.55,-1.63,-1.66,-1.74,-1.83,-1.94,-2.05,-2.06,-2.25,-2.37,-2.37,-2.42];
const gFitX=[-3.05,2.73];
const gFitY=[-0.93,0.83];
const gBandX=[-3.05,-1.5,0,1.5,2.73];
const gBandUpper=[-0.43,-0.18,0.10,0.72,1.26];
const gBandLower=[-1.41,-0.63,-0.12,0.26,0.37];
const gXTicks=[-4,0,4];
const gYTicks=[3,0,-3];

// ---------- Panel H ----------
const hX=[.20,.49,1.13,1.18,-.22,-.17,-1.50,-1.10,.30,.15,.02,.57,1.20,1.48,.44,-1.23,2.10,-1.02,-.60,.71,1.50,1.17,-1.43,-.31,-.81,-.85,-.17,.02,-.28,.03,.40,.34,.02,.20,1.61,1.71,.78,1.05,.78,1.0,1.10,.17,.20,-.97,-1.29,1.72,2.34,2.63,-2.33,.60,.11,1.18,1.10,-1.38,.47,-.57,-.36,-.29,.94,-.03,-.16,.28,1.83,2.11,-1.85,-.68,.73,.98,.77,-.79,-.53,1.53,1.29,-1.11,-.95,.02,.53,.62,.87,1.18,1.37,-1.93,-1.50,-.66,-.58,-.97,.10,-.33,.94,2.25,-1.30,-.97,-.08,-1.05,-.82,-.48,.34,-.68,-.53,-.57,.79,1.16,-.70,-1.08,-1.11,.16,1.76,.49,-.60,-.50,.99,1.25,-.45,-.40,-1.23,.36,-.39,-.26,-.82,-.55,-.39,-.88,.86,-1.53,.03,-.75,-2.41,-.86,-.91,-.19,-.28,2.09,-.66,-.77,-.79,-.73,-1.31,-.35,-.43,-1.13,-.73,-.58,-.20];
const hY=[2.25,1.86,1.88,1.86,1.78,1.77,1.67,1.53,1.58,1.45,1.42,1.43,1.44,1.40,1.32,1.24,1.16,1.07,1.09,1.10,1.06,1.02,.94,.98,.93,.83,.93,.94,.83,.86,.93,.86,.75,.75,.82,.81,.75,.77,.67,.67,.66,.65,.67,.63,.58,.61,.66,.81,.70,.55,.49,.51,.48,.46,.42,.37,.40,.40,.35,.32,.25,.22,.16,.17,.10,.12,.10,.09,.04,0,.03,.01,-.02,-.06,-.09,-.11,-.07,-.16,-.14,-.17,-.14,-.20,-.20,-.16,-.18,-.22,-.21,-.24,-.25,-.26,-.32,-.30,-.33,-.40,-.40,-.40,-.42,-.49,-.46,-.55,-.57,-.57,-.65,-.66,-.70,-.66,-.67,-.70,-.77,-.76,-.77,-.85,-.85,-.92,-.95,-.97,-1.01,-1.07,-1.06,-1.12,-1.13,-1.16,-1.14,-1.19,-1.20,-1.21,-1.24,-1.25,-1.32,-1.35,-1.47,-1.46,-1.57,-1.63,-1.77,-1.84,-1.88,-1.86,-1.92,-1.98,-2.09,-2.35,-2.46];
const hFitX=[-2.41,2.63];
const hFitY=[-0.69,0.75];
const hBandX=[-2.41,-1.2,0,1.3,2.63];
const hBandUpper=[-0.27,-0.10,0.09,0.66,1.17];
const hBandLower=[-1.07,-0.62,-0.13,0.14,0.30];
const hXTicks=[-4,0,4];
const hYTicks=[3,0,-3];

// ---------- Panel I ----------
const iX=[.83,.37,-1.30,-1.49,-.97,-.22,-.25,-.26,.13,.02,.26,-.36,.80,.66,-2.17,-1.86,.62,.97,1.19,-.36,-.38,-.74,-.63,-.04,.05,.05,-1.65,-1.18,-.59,.58,-.93,-.43,-.30,-.22,-.26,.19,.64,1.52,-1.89,-1.03,-.04,-1.47,-.56,.31,.98,.01,-1.47,.49,.79,.74,.94,-1.43,-1.0,-2.62,-2.75,-.70,-.57,-.43,-.11,.61,-1.96,-1.11,-1.52,-1.05,-1.14,-.26,-.13,-.56,.39,.51,1.13,1.26,.77,.97,1.01,1.50,-2.03,-.49,-.17,.37,.83,-.36,.01,.26,.39,-1.43,-.92,-.68,1.90,-.21,.10,.16,-.90,-.30,.28,.45,.51,.67,.88,.78,.74,-2.67,1.66,.06,-.33,-.67,-.60,.23,1.08,1.15,.46,.98,1.15,1.17,1.17,.69,1.50,.17,.91,.92,.53,-.38,-.33,-1.78,-1.67,1.07,1.10,.48,1.10,1.59,-.07,-.50,1.32,-.10,.67,2.14,.95,1.70,-.56,1.02,1.09,1.22];
const iY=[2.27,2.15,2.05,1.84,1.76,1.71,1.63,1.54,1.52,1.39,1.39,1.38,1.33,1.25,1.27,1.14,1.14,1.15,1.09,1.14,1.01,.95,.96,.94,.95,.86,.91,.88,.86,.87,.77,.80,.79,.73,.71,.75,.73,.65,.60,.60,.62,.58,.52,.54,.57,.50,.47,.40,.46,.39,.41,.34,.37,.28,.51,.32,.30,.28,.33,.29,.26,.26,.16,.15,.07,.16,.16,.12,.15,.20,.22,.14,.12,.15,.11,.06,.04,.04,.03,.04,0,-.02,-.09,-.08,-.11,-.11,-.16,-.22,-.14,-.15,-.16,-.21,-.28,-.29,-.30,-.32,-.29,-.31,-.27,-.32,-.39,-.39,-.37,-.42,-.48,-.57,-.70,-.65,-.63,-.67,-.80,-.93,-.92,-1.02,-1.09,-1.08,-1.16,-1.19,-1.24,-1.31,-1.32,-1.37,-1.43,-1.44,-1.54,-1.42,-1.44,-1.50,-1.56,-1.52,-1.55,-1.63,-1.66,-1.75,-1.83,-1.94,-2.05,-2.06,-2.24,-2.36,-2.36,-2.41];
const iFitX=[-2.75,2.14];
const iFitY=[0.86,-0.67];
const iBandX=[-2.75,-1.3,0,1,2.14];
const iBandUpper=[1.30,0.68,0.10,-0.08,-0.29];
const iBandLower=[0.40,0.15,-0.12,-0.58,-1.02];
const iXTicks=[-4,0,4];
const iYTicks=[3,0,-3];

// ---------- Panel J ----------
const jX=[-.51,-1.55,-1.21,-.78,1.0,-.60,-.08,.55,-1.39,-.22,-.09,.31,-.51,-.78,.59,-.79,-.96,-.91,.19,.26,-1.24,-.06,.96,-.46,-.36,.31,.79,1.34,1.37,-2.24,-1.79,-1.72,.42,.30,.77,-.46,-.06,-1.94,.58,.07,.38,1.51,-1.27,-1.21,-.58,.49,.68,-1.89,-.36,-.61,-.25,-.93,-.88,1.50,.90,-1.15,0,.11,.65,.61,.57,-1.75,-.87,-.05,-2.22,-1.99,-.59,-.29,-.14,-.09,.92,-1.97,-1.75,-.45,-.39,.67,-1.19,-1.21,-.64,.99,-1.80,-.70,-.91,-.24,.43,.72,.14,.29,1.10,1.18,-2.27,-1.26,.97,1.20,-.25,.46,.44,.85,.07,-.69,1.24,.65,.32,1.34,-1.34,-1.31,-1.22,.55,1.15,1.67,-.24,-.91,1.27,1.30,-1.61,.77,-.40,.53,0,1.79,.29,1.02,.78,1.39,-1.58,-.26,.55,1.14,1.11,1.41,.63,.67,.49,-.01,.29,.93,1.15,1.11,.50,1.17,1.01,1.79,-.88,1.20,1.17,-.17,.60];
const jY=[2.25,1.86,1.88,1.85,1.77,1.66,1.57,1.53,1.43,1.44,1.40,1.44,1.39,1.31,1.24,1.16,1.11,1.06,1.08,1.07,1.01,.99,.93,.92,.94,.92,.91,.90,.87,.81,.83,.81,.84,.80,.84,.77,.74,.76,.74,.68,.68,.69,.65,.65,.65,.63,.62,.61,.63,.57,.54,.51,.47,.49,.46,.42,.39,.36,.40,.36,.32,.35,.25,.24,.15,.17,.10,.10,.10,.10,.12,0,-.02,.01,.01,-.01,-.03,-.09,-.08,-.06,-.13,-.15,-.17,-.16,-.16,-.18,-.21,-.23,-.20,-.23,-.26,-.25,-.30,-.31,-.33,-.32,-.42,-.40,-.40,-.42,-.43,-.46,-.49,-.56,-.57,-.58,-.68,-.65,-.65,-.70,-.70,-.77,-.78,-.78,-.85,-.86,-.90,-.95,-.97,-1.01,-1.07,-1.07,-1.13,-1.13,-1.15,-1.17,-1.20,-1.21,-1.23,-1.23,-1.27,-1.32,-1.36,-1.46,-1.48,-1.58,-1.57,-1.65,-1.87,-1.80,-1.89,-1.84,-1.93,-1.97,-2.10,-2.35,-2.46];
const jFitX=[-2.27,1.79];
const jFitY=[0.72,-0.58];
const jBandX=[-2.27,-1.1,0,0.9,1.79];
const jBandUpper=[1.09,0.56,0.09,-0.09,-0.26];
const jBandLower=[0.32,0.14,-0.10,-0.50,-0.88];
const jXTicks=[-3,0,3];
const jYTicks=[3,0,-3];

const NS='http://www.w3.org/2000/svg';
function mk(tag,attrs,parent){
  const el=document.createElementNS(NS,tag);
  for(const k in attrs){el.setAttribute(k,attrs[k]);}
  parent.appendChild(el);
  return el;
}

function drawScatter(p){
  const root=document.getElementById('plots');
  const g=mk('g',{},root);
  
  
  const b=p.box;
  const sx=v=>b[0]+(v-p.xDom[0])/(p.xDom[1]-p.xDom[0])*(b[2]-b[0]);
  const sy=v=>b[3]-(v-p.yDom[0])/(p.yDom[1]-p.yDom[0])*(b[3]-b[1]);

  const up=p.bandX.map((x,i)=>sx(x)+','+sy(p.bandUpper[i]));
  const lo=p.bandX.map((x,i)=>sx(x)+','+sy(p.bandLower[i])).reverse();
  const band=mk('polygon',{points:up.concat(lo).join(' '),fill:p.bandColor},g);
  
  

  const hz=mk('line',{x1:b[0]+2,x2:b[2]-4,y1:sy(0),y2:sy(0),stroke:'#333','stroke-width':p.dotW,'stroke-dasharray':p.dash},g);
  
  
  const vt=mk('line',{x1:sx(0),x2:sx(0),y1:b[1]+6,y2:b[3]-8,stroke:'#333','stroke-width':p.dotW,'stroke-dasharray':p.dash},g);
  
  

  const pts=mk('g',{fill:p.dotColor},g);
  
  
  p.xs.forEach((x,i)=>{
    if(p.ys[i]===undefined)return;
    const c=mk('circle',{cx:sx(x),cy:sy(p.ys[i]),r:p.r},pts);
    
    
  });

  const fit=mk('line',{x1:sx(p.fitX[0]),y1:sy(p.fitY[0]),x2:sx(p.fitX[1]),y2:sy(p.fitY[1]),stroke:p.lineColor,'stroke-width':2},g);
  
  

  const box=mk('rect',{x:b[0],y:b[1],width:b[2]-b[0],height:b[3]-b[1],fill:'none',stroke:p.boxColor,'stroke-width':p.boxW},g);
  
  

  p.xTicks.forEach((t,i)=>{
    const tick=mk('line',{x1:sx(t),x2:sx(t),y1:b[3],y2:b[3]+6,stroke:'#333','stroke-width':1.5},g);
    
    
    const lab=mk('text',{x:sx(t)+p.xShift[i],y:p.xBase,'text-anchor':'middle','font-size':p.tickSize},g);
    
    
    lab.textContent=String(t);
  });
  p.yTicks.forEach(t=>{
    const tick=mk('line',{x1:b[0]-6,x2:b[0],y1:sy(t),y2:sy(t),stroke:'#333','stroke-width':1.5},g);
    
    
    const lab=mk('text',{x:b[0]-9,y:Math.min(sy(t)+9,b[3]+5),'text-anchor':'end','font-size':p.tickSize},g);
    
    
    lab.textContent=String(t);
  });
  (p.minorX||[]).forEach(t=>{
    const m=mk('line',{x1:sx(t),x2:sx(t),y1:b[3],y2:b[3]+4,stroke:'#333','stroke-width':1.2},g);
    
    
  });
  (p.minorY||[]).forEach(t=>{
    const m=mk('line',{x1:b[0]-4,x2:b[0],y1:sy(t),y2:sy(t),stroke:'#333','stroke-width':1.2},g);
    
    
  });
}

const redStyle={dotColor:'#f5646b',lineColor:'#d8232a',bandColor:'#fbb6b8',boxColor:'#ee6b6f'};
const blueStyle={dotColor:'#4f97e8',lineColor:'#4b93d8',bandColor:'#cfe3f8',boxColor:'#5a9ed8'};

drawScatter(Object.assign({id:'c',box:[1412.6,14.4,1807,302.6],xDom:[-0.2,0.3],yDom:[-4.5,4],xs:cX,ys:cY,fitX:cFitX,fitY:cFitY,bandX:cBandX,bandUpper:cBandUpper,bandLower:cBandLower,xTicks:cXTicks,yTicks:cYTicks,xShift:[5,0,-5],xBase:330,tickSize:24,r:3.6,dotW:1.4,dash:'2 6',boxW:1.5},redStyle));
drawScatter(Object.assign({id:'d',box:[1412.6,374.3,1807,663],xDom:[-0.2,0.3],yDom:[-5,5],xs:dX,ys:dY,fitX:dFitX,fitY:dFitY,bandX:dBandX,bandUpper:dBandUpper,bandLower:dBandLower,xTicks:dXTicks,yTicks:dYTicks,xShift:[4,0,-9],xBase:693,tickSize:24,r:3.6,dotW:1.4,dash:'2 6',boxW:1.5},redStyle));
drawScatter(Object.assign({id:'g',box:[82,1455,529.6,1829.3],xDom:[-4,4],yDom:[-3,3],xs:gX,ys:gY,fitX:gFitX,fitY:gFitY,bandX:gBandX,bandUpper:gBandUpper,bandLower:gBandLower,xTicks:gXTicks,yTicks:gYTicks,minorX:[-2,2],minorY:[-1.5,1.5],xShift:[-7,0,-2],xBase:1861,tickSize:26,r:4.2,dotW:2,dash:'2.5 7',boxW:1.8},redStyle));
drawScatter(Object.assign({id:'h',box:[1069,1455,1533.7,1828.7],xDom:[-4,4],yDom:[-3,3],xs:hX,ys:hY,fitX:hFitX,fitY:hFitY,bandX:hBandX,bandUpper:hBandUpper,bandLower:hBandLower,xTicks:hXTicks,yTicks:hYTicks,minorX:[-2,2],minorY:[-1.5,1.5],xShift:[-7,0,-3],xBase:1859,tickSize:26,r:4.2,dotW:2,dash:'2.5 7',boxW:1.8},redStyle));
drawScatter(Object.assign({id:'i',box:[82,1990,529.6,2363.5],xDom:[-4,4],yDom:[-3,3],xs:iX,ys:iY,fitX:iFitX,fitY:iFitY,bandX:iBandX,bandUpper:iBandUpper,bandLower:iBandLower,xTicks:iXTicks,yTicks:iYTicks,minorX:[-2,2],minorY:[-1.5,1.5],xShift:[-7,0,-2],xBase:2392,tickSize:26,r:4.2,dotW:1.6,dash:'2 6',boxW:1.8},blueStyle));
drawScatter(Object.assign({id:'j',box:[1069,1990.3,1529,2363.3],xDom:[-3,3],yDom:[-3,3],xs:jX,ys:jY,fitX:jFitX,fitY:jFitY,bandX:jBandX,bandUpper:jBandUpper,bandLower:jBandLower,xTicks:jXTicks,yTicks:jYTicks,minorX:[-1.5,1.5],minorY:[-1.5,1.5],xShift:[-7,0,-2],xBase:2392,tickSize:26,r:4.2,dotW:1.6,dash:'2 6',boxW:1.8},blueStyle));

// ---------- Brain surface illustrations ----------
const brainPalette={n:'#1b3a6b',b:'#4d8fbf',l:'#9cc8e2',w:'#e6edf0',c:'#ead9b3',y:'#e0a83f',o:'#b96a22',r:'#7c2020'};
const lateralShape='M0,58 C0,44 5,32 9,28 C14,20 20,14 25,11 C35,5 42,2 50,0 C57,-1 64,0 68,3 C71,7 78,8 82,12 C88,20 94,38 99,54 C101,62 101,72 97,78 C92,78 88,74 82,75 C74,78 66,84 60,89 C54,93 46,99 39,100 C33,100 28,95 28,90 C27,86 28,84 27,83 C20,86 12,86 7,83 C3,78 0,68 0,58 Z';
const medialShape='M0,60 C1,50 3,45 5,43 C9,36 12,31 15,27 C18,20 20,15 21,12 C25,7 28,4 30,3 C34,1 37,0 40,0 C47,0 53,1 58,3 C66,5 74,10 80,15 C86,21 91,31 94,39 C98,46 100,53 100,60 C100,70 98,76 96,80 C94,84 91,85 89,85 C83,86 76,85 71,84 C73,87 73,90 72,92 C70,96 67,98 64,99 C60,100 57,100 54,100 C49,96 45,90 42,86 C38,84 35,83 32,82 C24,80 14,78 6,76 C3,74 0,68 0,60 Z';
const callosumShape='M34,52 C34,46 40,43 51,41 C60,41 68,46 74,52 C78,55 81,58 81,61 C81,65 78,66 72,67 C68,68 66,67 63,67 C63,71 62,74 61,75 C59,78 58,80 55,80 C50,80 47,76 46,72 C44,68 44,66 42,64 C38,63 34,60 34,52 Z';
const lateralSulci=['M30,80 C40,65 50,60 62,50 C68,45 75,45 85,55','M47,3 C42,20 38,35 34,52','M62,5 C55,20 52,32 50,45','M20,22 C30,30 35,40 29,60','M8,45 C18,45 26,50 28,68','M35,90 C45,80 58,72 74,68','M76,14 C72,30 75,40 88,48','M14,68 C20,62 24,70 28,78'];
const medialSulci=['M25,40 C35,22 60,22 80,42 C90,54 86,70 78,78','M40,4 C42,15 42,24 46,34','M20,30 C28,40 30,50 32,62','M8,62 C20,66 35,72 46,84','M66,10 C68,18 68,24 70,30'];
let brainCount=0;
function drawBrain(name,kind,x0,y0,x1,y1,rows){
  const root=document.getElementById('brains');
  const w=x1-x0,h=y1-y0;
  const id='brainClip'+(brainCount++);
  const defs=document.querySelector('svg defs');
  const cp=mk('clipPath',{id:id},defs);
  const tf='translate('+x0+' '+y0+') scale('+(w/100)+' '+(h/100)+')';
  mk('path',{d:kind==='lateral'?lateralShape:medialShape,transform:tf},cp);
  const g=mk('g',{'clip-path':'url(#'+id+')'},root);
  
  
  const cells=mk('g',{filter:'url(#wobble)'},g);
  const nr=rows.length,nc=rows[0].length,cw=w/nc,ch=h/nr;
  rows.forEach((row,r)=>{
    for(let c=0;c<nc;c++){
      const lx=c===0?22:0,rx=c===nc-1?22:1,ty=r===0?22:0,by=r===nr-1?22:1;
      mk('rect',{x:x0+c*cw-lx,y:y0+r*ch-ty,width:cw+lx+rx,height:ch+ty+by,fill:brainPalette[row[c]]},cells);
    }
  });
  mk('rect',{x:x0,y:y0,width:w,height:h,fill:'#000',filter:'url(#veinsDark)',opacity:.2},g);
  mk('rect',{x:x0,y:y0,width:w,height:h,fill:'#fff',filter:'url(#veinsLight)',opacity:.28},g);
  const sulci=kind==='lateral'?lateralSulci:medialSulci;
  sulci.forEach(d=>{
    mk('path',{d:d,transform:tf,fill:'none',stroke:'#fff','stroke-opacity':.35,'stroke-width':5,'vector-effect':'non-scaling-stroke',filter:'url(#soft)'},g);
    mk('path',{d:d,transform:tf,fill:'none',stroke:'#2a3348','stroke-opacity':.3,'stroke-width':1.6,'vector-effect':'non-scaling-stroke'},g);
  });
  mk('rect',{x:x0,y:y0,width:w,height:h,fill:'url(#brainEdge)'},g);
  if(kind==='medial'){
    mk('path',{d:callosumShape,transform:tf,fill:'#eef0f2',stroke:'#cfd4d9','stroke-width':.4},g);
  }
}
drawBrain('brain-a-tmap-lateral','lateral',57,102,288,265,["bbblblwbwy","lblwlwyyyy","lbcwbcyylb","bnlybwybbo","bwwycwclbc","cwwwcclwwc","ywwlnbbcwy","wwwoclwwww"]);
drawBrain('brain-a-tmap-medial','medial',319,102,555,270,["wwybwnblll","wwlcwnbcll","yyycllwlbl","yyycwwwlnl","yccbwwwyyn","cynnwwlyyy","cccblcylly","wwwllycoww"]);
drawBrain('brain-a-pls1-lateral','lateral',57,440,289,605,["lllbbcycll","bllwwcyyly","bblwwlyccl","lblwcyycly","lllcyycloo","lllcbcllor","wllblcyyor","wwlblbllyy"]);
drawBrain('brain-a-pls1-medial','medial',320,437.5,556,607,["wwyycbbbbl","yywwcbbbbb","yolwwlbbbb","rorwwwwwlb","rroowwwwwn","rroyowwlbl","oyylwwwlbl","cclllblbbb"]);
drawBrain('brain-b-tmap-lateral','lateral',706,101,934,263,["lbbblnwcll","cblbwlcycy","ybblwycyoy","bbblnyoywl","bwclyywyll","bwwyyyclyc","ycwlycllcw","blwlbnwlcy"]);
drawBrain('brain-b-tmap-medial','medial',964,100,1195,267,["wwwwlnbbll","yllwwnblcc","yycyywnwlc","yoyywwwwbb","yywwwwwobl","clbbnwwoll","llcbnwlbbl","wccyyywlll"]);
drawBrain('brain-b-pls1-lateral','lateral',706,439.6,930,600.5,["lblwcycbll","bblwcyccll","bblccycylc","llllwccyll","lllwcyylly","ccllyyclro","wlyblcyooo","llbbllcyyc"]);
drawBrain('brain-b-pls1-medial','medial',964,437,1194,604,["wwyylbbbbl","cwoywlbbbb","oywwwwlbbb","rrywwwwwlb","rroowwwwbn","oroowwwwbl","yoollwwlbl","wwwllllbbb"]);
drawBrain('brain-g-lateral','lateral',556,1456.7,786,1620,["lwwlycylnc","lyyywoowwy","ylblcrcyyl","llwwycoclo","bwnlyywlry","wlwwywlyry","wllwyllcyy","wlloylcccc"]);
drawBrain('brain-g-medial','medial',556,1661.7,786,1826,["wlyyoclccl","yywywclcll","oylyycccll","oowwwwwyyb","rowwwwwwyn","ocywwwwcll","ocwlcwwwwc","wwwcyywwww"]);
drawBrain('brain-h-lateral','lateral',1569,1454.3,1806.6,1625.7,["lllbyoyycc","lblcyoyyyl","bnlcywcyyy","bbwyywlwyr","lbcylnlloy","bbyllbllro","lbwbbbbwoo","lwwlbbbllc"]);
drawBrain('brain-h-medial','medial',1571,1659.3,1806.6,1828.3,["wlyyylbblc","yylyyllblc","oowlyllbll","roywwwwwlb","roywwwwwlb","rowwwwwwlc","wcllwwwwlc","wwwlwlwwll"]);
drawBrain('brain-i-lateral','lateral',556,1986,785,2148.3,["ccywlwwlcl","ylblywlccy","yoowlbwyyl","coryywwwyl","cycyywlybb","wcyoyyyybn","wcyoyyyycb","wwyyyycwww"]);
drawBrain('brain-i-medial','medial',556,2185,786,2348.3,["llwwwcllcw","llwwyoyywl","blcooowoyl","bbcwwwwyol","bbyywwwwyy","nblorwwyoy","nbyorwyoyo","wwwyyyyyyc"]);
drawBrain('brain-j-lateral','lateral',1572.6,1984.3,1806.6,2152.7,["ccyybwblcc","yoycwbllcl","yyoowbwcyl","yocowlwylb","cycoywyybn","cyoyyoywbb","wcroyoyybw","wwrroyoywl"]);
drawBrain('brain-j-medial','medial',1570.5,2177.3,1808,2348.3,["lbwwlooyyl","lblwyooyol","blcwwoooob","bbcwwwwyrr","nbywwwwyrr","nbyywwwwoy","nbcyywcoyo","wwcyoyyoor"]);
</script>
</body>
</html>
